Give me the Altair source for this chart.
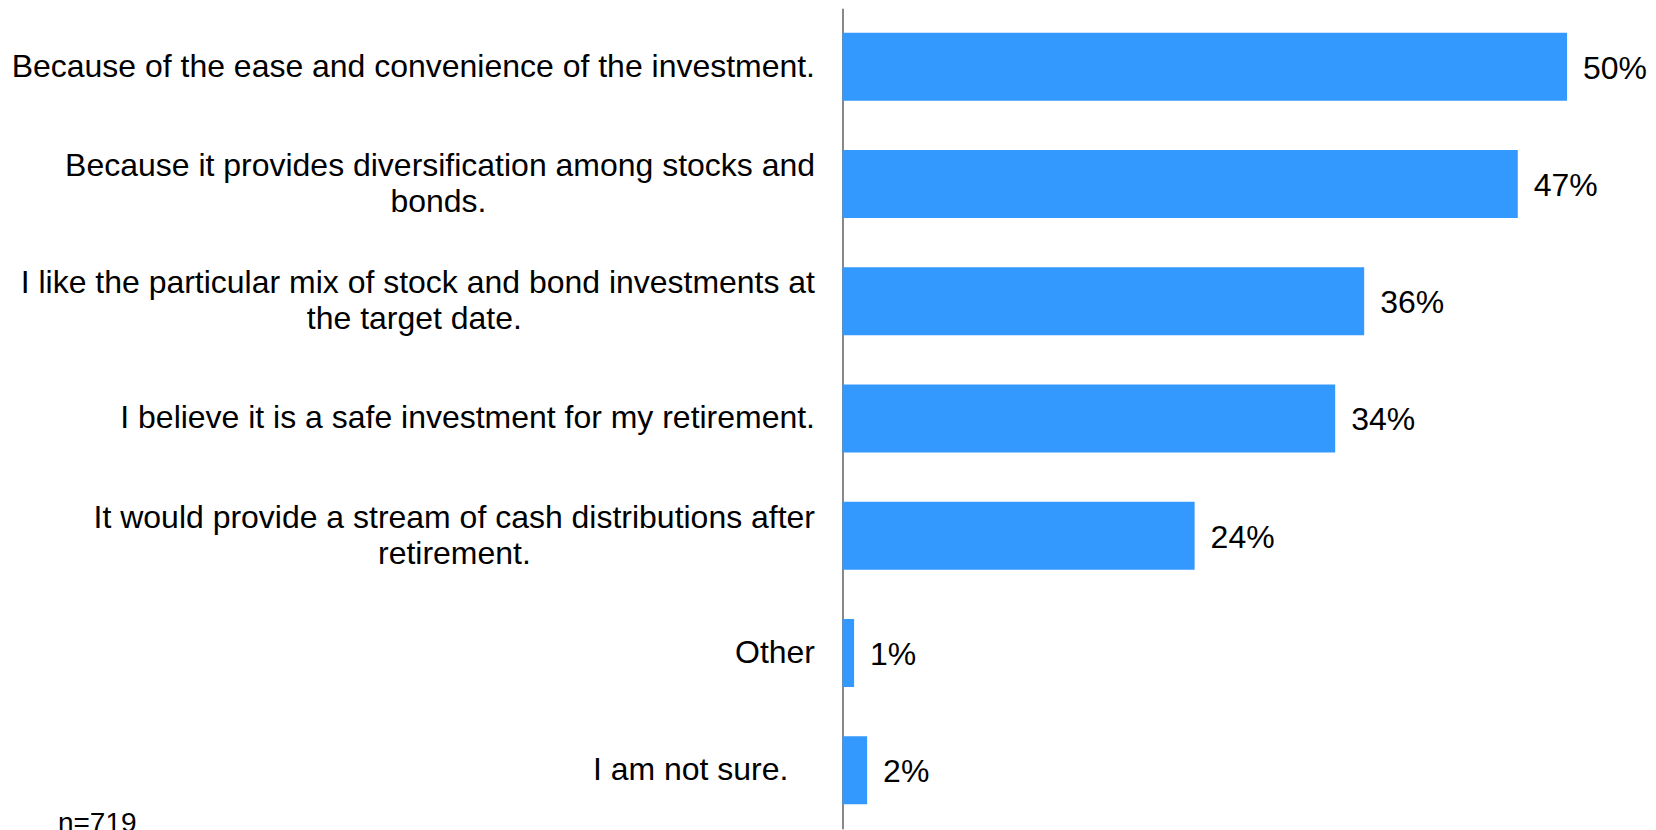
import altair as alt
import pandas as pd

# ---- data ----
categories = [
    "Because of the ease and convenience of the investment.",
    "Because it provides diversification among stocks and\nbonds.",
    "I like the particular mix of stock and bond investments at\nthe target date.",
    "I believe it is a safe investment for my retirement.",
    "It would provide a stream of cash distributions after\nretirement.",
    "Other",
    "I am not sure.\u00a0\u00a0\u00a0",
]
values = [50, 46.6, 36, 34, 24.3, 0.8, 1.7]
value_labels = ["50%", "47%", "36%", "34%", "24%", "1%", "2%"]
note_text = ["n=719"]

# ---- centre the wrapped lines of each label (Arial/Liberation metrics) ----
_W = dict(zip("abcdefghijklmnopqrstuvwxyz",
              [556, 556, 500, 556, 556, 278, 556, 556, 222, 222, 500, 222, 833,
               556, 556, 556, 556, 333, 500, 278, 556, 500, 722, 500, 500, 500]))
_W.update(dict(zip("ABCDEFGHIJKLMNOPQRSTUVWXYZ",
                   [667, 667, 722, 722, 667, 611, 778, 722, 278, 500, 667, 556, 833,
                    722, 778, 667, 778, 722, 667, 611, 722, 667, 944, 667, 667, 611])))
_W.update({" ": 278, ".": 278, ",": 278, "\u00a0": 278})

ZWSP = "\u200b"  # keeps trailing no-break spaces from being trimmed


def _width(s):
    return sum(_W.get(c, 556) for c in s)


def centre_lines(label):
    lines = label.split("\n")
    wmax = max(_width(l) for l in lines)
    out = []
    for l in lines:
        n = round((wmax - _width(l)) / 2 / 278)
        s = l + "\u00a0" * n
        if s.endswith("\u00a0"):
            s += ZWSP
        out.append(s)
    return "\n".join(out)


cats = [centre_lines(c) for c in categories]
df = pd.DataFrame({"category": cats, "value": values, "label": value_labels})

FONT = "Liberation Sans"
LINE_H = 36

y_enc = alt.Y(
    "category:N",
    sort=None,
    scale=alt.Scale(paddingInner=0.42, paddingOuter=0.21),
    axis=alt.Axis(
        title=None,
        ticks=False,
        labelExpr="split(datum.label, '\\n')",
        labelFont=FONT,
        labelFontSize=32,
        labelLineHeight=LINE_H,
        labelColor="black",
        labelPadding=28,
        labelLimit=0,
        labelAlign="right",
        labelBaseline="middle",
        labelOffset={
            "condition": {"test": "indexof(datum.value, '\\n') >= 0", "value": -LINE_H / 2},
            "value": 0,
        },
        domainColor="#888888",
        domainWidth=2,
    ),
)

base = alt.Chart(df)

bars = base.mark_bar(color="#3399FF").encode(
    x=alt.X("value:Q", scale=alt.Scale(domain=[0, 50], nice=False, zero=True), axis=None),
    y=y_enc,
)

texts = base.mark_text(
    align="left", baseline="middle", dx=16, dy=2, font=FONT, fontSize=32, color="black"
).encode(
    x=alt.X("value:Q"),
    y=alt.Y("category:N", sort=None),
    text="label:N",
)

note = alt.Chart(pd.DataFrame({"t": note_text})).mark_text(
    align="left", baseline="alphabetic", font=FONT, fontSize=28, color="black"
).encode(
    x=alt.value(-785),
    y=alt.value(824),
    text="t:N",
)

chart = (
    alt.layer(bars, texts, note)
    .properties(width=725, height=821, padding={"left": 2, "top": 0, "right": 0, "bottom": 0})
    .configure_view(stroke=None)
)

chart.save("out.html", embed_options={"renderer": "svg", "actions": False})
